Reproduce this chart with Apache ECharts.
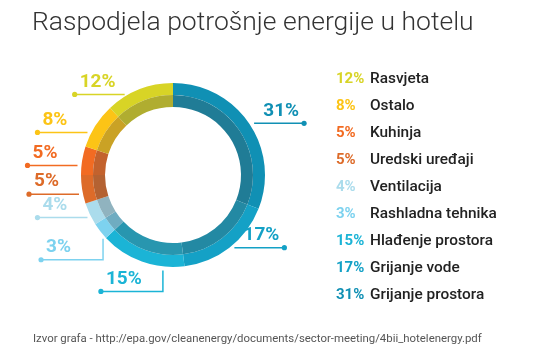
<!DOCTYPE html>
<html>
<head>
<meta charset="utf-8">
<script src="https://cdn.jsdelivr.net/npm/echarts@6/dist/echarts.min.js"></script>
<style>html,body{margin:0;padding:0;background:#fff}#c{width:540px;height:360px}</style>
</head>
<body>
<div id="c"></div>
<script>
const categories = ['Grijanje prostora','Grijanje vode','Hlađenje prostora','Rashladna tehnika','Ventilacija','Uredski uređaji','Kuhinja','Ostalo','Rasvjeta'];
const values = [31, 17, 15, 3, 4, 5, 5, 8, 12];
const colors = ['#1090b4','#14a1c6','#1bb4d6','#7dd2ef','#abdcec','#dd6b29','#f26b22','#fcc416','#d8d426'];
const titleText = 'Raspodjela potrošnje energije u hotelu';
const sourceText = 'Izvor grafa - http://epa.gov/cleanenergy/documents/sector-meeting/4bii_hotelenergy.pdf';

const CX = 173, CY = 175, R_OUT = 92, R_MID = 80, R_IN = 68;

function mix(hex, target, t) {
  const a = parseInt(hex.slice(1), 16), b = parseInt(target.slice(1), 16);
  const ch = s => Math.round(((a >> s) & 255) * (1 - t) + ((b >> s) & 255) * t);
  return 'rgb(' + ch(16) + ',' + ch(8) + ',' + ch(0) + ')';
}
const darkColors = colors.map(c => mix(c, '#4a4a4a', 0.28));

const total = values.reduce((s, v) => s + v, 0);
function angleAt(i, frac) {
  let cum = 0;
  for (let k = 0; k < i; k++) cum += values[k];
  return (cum + values[i] * frac) / total * 360;
}
function layoutFor(i) {
  const mid = angleAt(i, 0.5);
  let pts, dot, tx, ty, align;
  if (mid > 180 && mid < 240) {
    const rad = angleAt(i, 0.25) * Math.PI / 180;
    const ax = CX + R_OUT * Math.sin(rad), ay = CY - R_OUT * Math.cos(rad);
    const y0 = ay + 4, y1 = y0 + 21;
    pts = [[ax, y0], [ax, y1], [ax - 62, y1]];
    dot = [ax - 62, y1];
    tx = dot[0] + 5; ty = y1 - 3; align = 'left';
  } else if (mid > 180) {
    const rad = angleAt(i, 1 / 3) * Math.PI / 180;
    const ax = CX + R_OUT * Math.sin(rad), ay = CY - R_OUT * Math.cos(rad);
    pts = [[ax - 4, ay], [ax - 30, ay], [ax - 54, ay]];
    dot = [ax - 54, ay];
    tx = dot[0] + 5; ty = ay - 3; align = 'left';
  } else {
    const rad = mid * Math.PI / 180;
    const ax = CX + R_OUT * Math.sin(rad), ay = CY - R_OUT * Math.cos(rad);
    pts = [[ax + 5, ay], [ax + 30, ay], [ax + 55, ay]];
    dot = [ax + 55, ay];
    tx = dot[0] - 5; ty = ay - 3; align = 'right';
  }
  return { pts, dot, tx, ty, align };
}

const rich = { n: { fontFamily: 'Roboto', fontSize: 15.4, fontWeight: 500, color: '#222', lineHeight: 18 } };
colors.forEach((c, i) => {
  rich['p' + i] = { fontFamily: 'Roboto', fontSize: 15, fontWeight: 'bold', color: c, width: 34, lineHeight: 18 };
});

const chart = echarts.init(document.getElementById('c'), null, { renderer: 'canvas' });
chart.setOption({
  animation: false,
  backgroundColor: '#fff',
  title: [
    { text: titleText, left: 27, top: 5, textStyle: { fontFamily: 'Roboto', fontWeight: 300, fontSize: 26.5, color: '#333' } },
    { text: sourceText, left: 28, top: 329, textStyle: { fontFamily: 'Roboto', fontWeight: 400, fontSize: 11.4, color: '#555' } }
  ],
  legend: {
    orient: 'vertical', left: 326, top: 67, itemGap: 12,
    itemWidth: 0, itemHeight: 0, icon: 'rect', selectedMode: false,
    data: categories.slice().reverse(),
    formatter: name => { const i = categories.indexOf(name); return '{p' + i + '|' + values[i] + '%}{n|' + name + '}'; },
    textStyle: { rich }
  },
  graphic: values.map((v, i) => {
    const L = layoutFor(i);
    return { type: 'circle', shape: { cx: L.dot[0], cy: L.dot[1], r: 2.6 }, style: { fill: colors[i] }, silent: true, z: 10 };
  }),
  series: [
    {
      type: 'pie', center: [CX, CY], radius: [R_MID, R_OUT], startAngle: 90, clockwise: true,
      silent: true, emphasis: { disabled: true },
      data: values.map((v, i) => ({ name: categories[i], value: v, itemStyle: { color: colors[i] },
        label: { color: colors[i] }, labelLine: { lineStyle: { color: colors[i] } } })),
      label: { show: true, formatter: '{c}%', fontFamily: 'Roboto', fontWeight: 'bold', fontSize: 19 },
      labelLine: { show: true, lineStyle: { width: 1.5 } },
      labelLayout: params => {
        const L = layoutFor(params.dataIndex);
        return { x: L.tx, y: L.ty, align: L.align, verticalAlign: 'bottom', labelLinePoints: L.pts };
      }
    },
    {
      type: 'pie', center: [CX, CY], radius: [R_IN, R_MID], startAngle: 90, clockwise: true,
      silent: true, emphasis: { disabled: true }, label: { show: false }, labelLine: { show: false },
      data: values.map((v, i) => ({ name: categories[i], value: v, itemStyle: { color: darkColors[i] } }))
    }
  ]
});
</script>
</body>
</html>
